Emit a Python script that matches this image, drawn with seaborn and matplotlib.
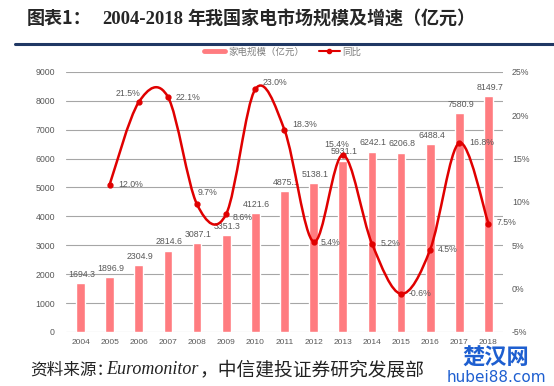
import numpy as np
import seaborn as sns
from matplotlib import pyplot as plt
from matplotlib.path import Path
from matplotlib.patches import PathPatch
from matplotlib.lines import Line2D

years = ['2004', '2005', '2006', '2007', '2008', '2009', '2010', '2011',
         '2012', '2013', '2014', '2015', '2016', '2017', '2018']
market_size = [1694.3, 1896.9, 2304.9, 2814.6, 3087.1, 3351.3, 4121.6, 4875.1,
               5138.1, 5931.1, 6242.1, 6206.8, 6488.4, 7580.9, 8149.7]
# growth starts in 2005
growth_years = years[1:]
growth = [12.0, 21.5, 22.1, 9.7, 8.6, 23.0, 18.3, 5.4, 15.4, 5.2, -0.6, 4.5, 16.8, 7.5]
# label offsets in pixels (dx, dy) and alignment for each growth label
growth_label_pos = [(9, 0, 'left'), (-11, 9, 'center'), (8, -1, 'left'), (1, 12, 'left'),
                    (6, -3, 'left'), (7, 7, 'left'), (8, 5, 'left'), (7, -1, 'left'),
                    (-6, 11, 'center'), (9, 0, 'left'), (8, 0, 'left'), (8, 0, 'left'),
                    (10, 0, 'left'), (8, 1, 'left')]

BAR_COLOR = '#FF7C80'
LINE_COLOR = '#E00000'
TEXT_GRAY = '#595959'

sns.set_style('white')
plt.rcParams['font.family'] = ['Liberation Sans', 'Noto Sans CJK SC', 'DejaVu Sans']

fig = plt.figure(figsize=(5.54, 3.86), dpi=100)
ax = fig.add_axes([0.119, 0.140, 0.789, 0.674])

sns.barplot(x=years, y=market_size, color=BAR_COLOR, saturation=1, width=0.3, ax=ax, zorder=2)
ax.set_xlim(-0.5, len(years) - 0.5)
ax.set_ylim(0, 9000)
ax.set_yticks(range(0, 9001, 1000))
ax.grid(axis='y', color='#A6A6A6', linewidth=0.8, zorder=0)
ax.set_axisbelow(True)
for s in ax.spines.values():
    s.set_visible(False)
ax.tick_params(axis='y', length=0, pad=8, labelsize=6.3, labelcolor=TEXT_GRAY)
ax.tick_params(axis='x', length=0, pad=5, labelsize=6.0, labelcolor=TEXT_GRAY)

for i, v in enumerate(market_size):
    ax.annotate(f'{v:.1f}', (i, v), xytext=(1, 3), textcoords='offset points',
                ha='center', va='bottom', fontsize=6.3, color=TEXT_GRAY)

ax2 = ax.twinx()
ax2.set_ylim(-5, 25)
ax2.set_yticks(range(-5, 26, 5))
ax2.set_yticklabels([f'{t}%' for t in range(-5, 26, 5)])
for s in ax2.spines.values():
    s.set_visible(False)
ax2.tick_params(axis='y', length=0, pad=6.5, labelsize=6.3, labelcolor=TEXT_GRAY)
ax2.grid(False)

# smoothed line, Catmull-Rom turned into cubic Bezier segments
gx = np.array([years.index(y) for y in growth_years], dtype=float)
gy = np.array(growth)
pts = np.column_stack([gx, gy])
ext = np.vstack([pts[0], pts, pts[-1]])
verts = [tuple(pts[0])]
codes = [Path.MOVETO]
for k in range(len(pts) - 1):
    p0, p1, p2, p3 = ext[k], ext[k + 1], ext[k + 2], ext[k + 3]
    c1 = p1 + (p2 - p0) / 6
    c2 = p2 - (p3 - p1) / 6
    verts += [tuple(c1), tuple(c2), tuple(p2)]
    codes += [Path.CURVE4] * 3
ax2.add_patch(PathPatch(Path(verts, codes), facecolor='none', edgecolor=LINE_COLOR,
                        linewidth=1.8, zorder=3))
ax2.plot(gx, gy, linestyle='none', marker='o', markersize=3.5, color=LINE_COLOR, zorder=4)

for x, y, (dx, dy, ha) in zip(gx, gy, growth_label_pos):
    ax2.annotate(f'{y:.1f}%', (x, y), xytext=(dx * 0.72, dy * 0.72), textcoords='offset points',
                 ha=ha, va='center', fontsize=6.3, color=TEXT_GRAY, zorder=5)

handles = [Line2D([], [], color=BAR_COLOR, linewidth=3.5),
           Line2D([], [], color=LINE_COLOR, linewidth=1.5, marker='o', markersize=3)]
fig.legend(handles, ['家电规模（亿元）', '同比'], loc='center', bbox_to_anchor=(283 / 554, 1 - 52 / 386),
           ncol=2, frameon=False, fontsize=6.8, handlelength=2.2, columnspacing=1.6,
           handletextpad=0.3, labelcolor='#7F7F7F')

# title block
ty = 1 - 19 / 386
fig.text(27 / 554, ty, '图表1：', fontsize=13, fontweight='bold', family=['Noto Sans CJK SC'],
         va='center', ha='left')
fig.text(102 / 554, ty, '2004-2018', fontsize=13.5, fontweight='bold', family=['Liberation Serif'],
         va='center', ha='left')
fig.text(187 / 554, ty, '年我国家电市场规模及增速（亿元）', fontsize=13, fontweight='bold',
         family=['Noto Sans CJK SC'], va='center', ha='left')
fig.add_artist(Line2D([15 / 554, 1], [1 - 44 / 386] * 2, transform=fig.transFigure,
                      color='#203864', linewidth=2.2))

# source line
sy = 1 - 370 / 386
fig.text(30 / 554, sy, '资料来源：', fontsize=12, family=['Noto Sans CJK SC'], va='center',
         ha='left', color='#222222')
fig.text(106 / 554, sy, 'Euromonitor', fontsize=13, style='italic', family=['Liberation Serif'],
         va='center', ha='left', color='#222222')
fig.text(200 / 554, sy, '，中信建投证券研究发展部', fontsize=13.5, family=['Noto Sans CJK SC'],
         va='center', ha='left', color='#222222')

# watermark
fig.text(496 / 554, 1 - 358 / 386, '楚汉网', fontsize=16, fontweight='bold', family=['Noto Sans CJK SC'],
         va='center', ha='center', color='#1E5FD0')
fig.text(496 / 554, 1 - 377 / 386, 'hubei88.com', fontsize=11, family=['DejaVu Sans'],
         va='center', ha='center', color='#1E5FD0')

fig.savefig('out.png', dpi=100)
